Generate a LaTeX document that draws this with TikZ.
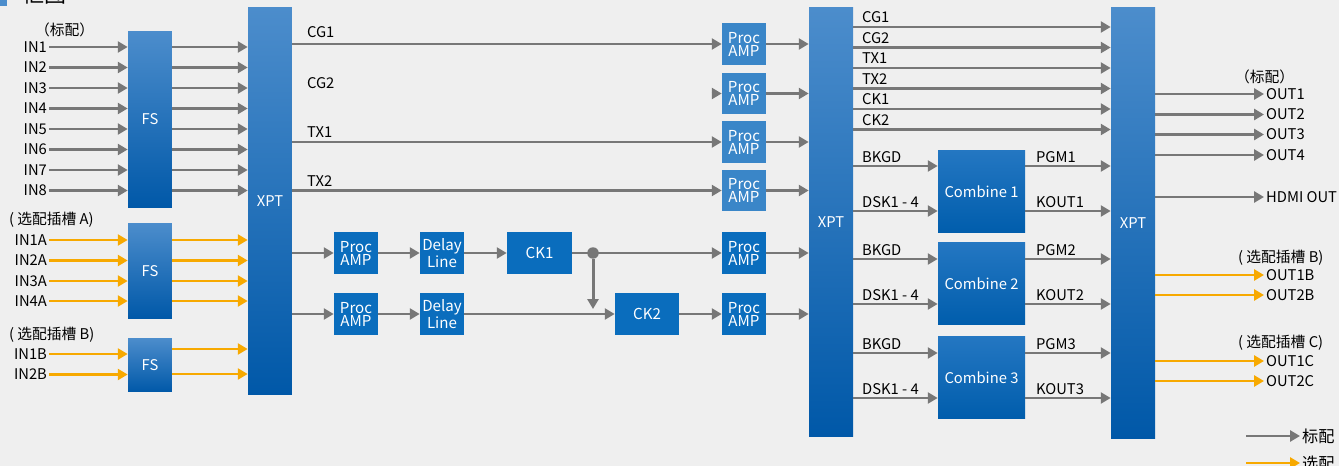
\documentclass[tikz,border=0pt]{standalone}
\usepackage{fontspec}
\setmainfont{Noto Sans CJK SC}
\usetikzlibrary{arrows.meta,positioning,calc}
\definecolor{bg}{HTML}{EFEFEF}
\definecolor{wire}{HTML}{777777}
\definecolor{opt}{HTML}{F7A900}
\definecolor{bluetop}{HTML}{4C8DCC}
\definecolor{bluebot}{HTML}{0058A8}
\definecolor{combtop}{HTML}{2477C2}
\definecolor{combbot}{HTML}{005DAC}
\definecolor{blockblue}{HTML}{0A6DBD}
\definecolor{lightblock}{HTML}{3A86C8}

\tikzset{
  wire/.style={draw=wire,line width=1.7pt,-{Triangle[length=5.6pt,width=6.2pt]}},
  optwire/.style={wire,draw=opt},
  bigblk/.style={rectangle,top color=bluetop,bottom color=bluebot,text=white,
                 inner sep=0,minimum width=0.88cm},
  combblk/.style={rectangle,top color=combtop,bottom color=combbot,text=white,
                  inner sep=0,minimum width=1.74cm,minimum height=1.66cm,
                  font=\fontsize{8.4}{9}\selectfont},
  procblk/.style={rectangle,fill=blockblue,text=white,inner sep=0,align=center,
                  minimum width=0.88cm,minimum height=0.84cm,
                  font=\fontsize{8.6}{7.4}\selectfont},
  lbl/.style={inner sep=1pt},
}

\begin{document}
\begin{tikzpicture}[x=0.02cm,y=-0.02cm,font=\fontsize{8.4}{9}\selectfont]
  \useasboundingbox[fill=bg] (0,0) rectangle (1339,466);

  % title, cut by the page edge
  \fill[bluetop] (0,-10) rectangle (7,6);
  \node[anchor=base west,inner sep=0,font=\fontsize{12.5}{14}\selectfont] (title) at (22,3) {框图};

  % big blocks
  \node[bigblk,minimum height=3.54cm] (fsa) at (150,119.5) {FS};
  \node[bigblk,minimum height=1.92cm] (fsb) at (150,271) {FS};
  \node[bigblk,minimum height=1.08cm] (fsc) at (150,365) {FS};
  \node[bigblk,minimum height=7.76cm] (xpta) at (270,201) {XPT};
  \node[bigblk,minimum height=8.6cm] (xptb) at (831,222) {XPT};
  \node[bigblk,minimum height=8.64cm] (xptc) at (1133,223) {XPT};

  % inputs (standard)
  \node[lbl,anchor=west] (stdin) at (33,30) {（标配）};
  \foreach \i/\yy in {1/47,2/67.5,3/88,4/108.5,5/129,6/149.5,7/170,8/190.5}{
    \node[lbl,anchor=east] (in\i) at (49,\yy) {IN\i};
    \draw[wire] (in\i.east) -- (fsa.west |- in\i.east);
    \draw[wire] (fsa.east |- in\i.east) -- (xpta.west |- in\i.east);
  }

  % inputs, slot A
  \node[lbl,anchor=west] (slota) at (7,220) {( 选配插槽 A)};
  \foreach \i/\yy in {1/240,2/260.5,3/281,4/301}{
    \node[lbl,anchor=east] (ina\i) at (49,\yy) {IN\i A};
    \draw[optwire] (ina\i.east) -- (fsb.west |- ina\i.east);
    \draw[optwire] (fsb.east |- ina\i.east) -- (xpta.west |- ina\i.east);
  }

  % inputs, slot B
  \node[lbl,anchor=west] (slotb) at (7,335) {( 选配插槽 B)};
  \node[lbl,anchor=east] (inb1) at (49,354) {IN1B};
  \node[lbl,anchor=east] (inb2) at (49,374.5) {IN2B};
  \draw[optwire] (inb1.east) -- (fsc.west |- inb1.east);
  \draw[optwire] (inb2.east) -- (fsc.west |- inb2.east);
  \draw[optwire] (fsc.east |- 0,349) -- (xpta.west |- 0,349);
  \draw[optwire] (fsc.east |- 0,374) -- (xpta.west |- 0,374);

  % proc amps before the second crosspoint
  \node[procblk,fill=lightblock] (pa1) at (744,44) {Proc\\AMP};
  \node[procblk,fill=lightblock] (pa2) at (744,93.5) {Proc\\AMP};
  \node[procblk,fill=lightblock] (pa3) at (744,142) {Proc\\AMP};
  \node[procblk,fill=lightblock] (pa4) at (744,190.5) {Proc\\AMP};
  \node[lbl,anchor=base west] (lcg1) at (305,38) {CG1};
  \node[lbl,anchor=base west] (lcg2) at (305,89) {CG2};
  \node[lbl,anchor=base west] (ltx1) at (305,137.5) {TX1};
  \node[lbl,anchor=base west] (ltx2) at (305,186.5) {TX2};
  \draw[wire] (xpta.east |- pa1.west) -- (pa1.west);
  \draw[wire] ([xshift=-0.2cm]pa2.west) -- (pa2.west);
  \draw[wire] (xpta.east |- pa3.west) -- (pa3.west);
  \draw[wire] (xpta.east |- pa4.west) -- (pa4.west);

  % chroma key chain
  \node[procblk] (pa5) at (356,253) {Proc\\AMP};
  \node[procblk] (dl1) at (442,253) {Delay\\Line};
  \node[procblk,minimum width=1.3cm] (ck1) at (539.5,253) {CK1};
  \node[procblk] (pa7) at (744,253) {Proc\\AMP};
  \node[procblk] (pa6) at (356,314) {Proc\\AMP};
  \node[procblk] (dl2) at (442,314) {Delay\\Line};
  \node[procblk,minimum width=1.28cm] (ck2) at (647,314) {CK2};
  \node[procblk] (pa8) at (744,314) {Proc\\AMP};
  \node[circle,fill=wire,inner sep=0,minimum size=0.23cm] (jn) at (593,253) {};
  \coordinate (ckdown) at ($(jn |- ck2.west)+(0,-5)$);
  \draw[wire] (xpta.east |- pa5.west) -- (pa5.west);
  \draw[wire] (pa5) -- (dl1);
  \draw[wire] (dl1) -- (ck1);
  \draw[wire] (ck1) -- (pa7);
  \draw[wire] (jn) -- (ckdown);
  \draw[wire] (xpta.east |- pa6.west) -- (pa6.west);
  \draw[wire] (pa6) -- (dl2);
  \draw[wire] (dl2) -- (ck2);
  \draw[wire] (ck2) -- (pa8);
  \foreach \p in {pa1,pa2,pa3,pa4,pa7,pa8}
    \draw[wire] (\p.east) -- (xptb.west |- \p.east);

  % buses between the second and third crosspoint
  \foreach \i/\t/\yy in {1/CG1/27,2/CG2/47.5,3/TX1/68,4/TX2/88.5,5/CK1/109,6/CK2/129.5}{
    \node[lbl,anchor=base west] (bus\i) at (860,\yy-4) {\t};
    \draw[wire] (xptb.east |- 0,\yy) -- (xptc.west |- 0,\yy);
  }

  % combiners
  \node[combblk] (cb1) at (981.5,191.5) {Combine 1};
  \node[combblk] (cb2) at (981.5,283.5) {Combine 2};
  \node[combblk] (cb3) at (981.5,377.5) {Combine 3};
  \foreach \k/\b/\d in {1/166/211,2/259/304,3/353/398}{
    \node[lbl,anchor=base west] (bk\k) at (860,\b-4) {BKGD};
    \node[lbl,anchor=base west] (dsk\k) at (860,\d-4) {DSK1 - 4};
    \node[lbl,anchor=base west] (pgm\k) at (1034,\b-4) {PGM\k};
    \node[lbl,anchor=base west] (kout\k) at (1034,\d-4) {KOUT\k};
    \draw[wire] (xptb.east |- 0,\b) -- (cb\k.west |- 0,\b);
    \draw[wire] (xptb.east |- 0,\d) -- (cb\k.west |- 0,\d);
    \draw[wire] (cb\k.east |- 0,\b) -- (xptc.west |- 0,\b);
    \draw[wire] (cb\k.east |- 0,\d) -- (xptc.west |- 0,\d);
  }

  % outputs
  \node[lbl,anchor=west] (stdout) at (1233,77) {（标配）};
  \foreach \i/\yy in {1/94,2/114.5,3/134.5,4/155}{
    \node[lbl,anchor=west] (out\i) at (1264,\yy) {OUT\i};
    \draw[wire] (xptc.east |- out\i.west) -- (out\i.west);
  }
  \node[lbl,anchor=west] (hdmi) at (1264,197) {HDMI OUT};
  \draw[wire] (xptc.east |- hdmi.west) -- (hdmi.west);
  \node[lbl,anchor=west] (slotob) at (1236,258) {( 选配插槽 B)};
  \node[lbl,anchor=west] (out1b) at (1264,275) {OUT1B};
  \node[lbl,anchor=west] (out2b) at (1264,295) {OUT2B};
  \node[lbl,anchor=west] (slotoc) at (1236,343) {( 选配插槽 C)};
  \node[lbl,anchor=west] (out1c) at (1264,361) {OUT1C};
  \node[lbl,anchor=west] (out2c) at (1264,381) {OUT2C};
  \foreach \o in {out1b,out2b,out1c,out2c}
    \draw[optwire] (xptc.east |- \o.west) -- (\o.west);

  % legend
  \coordinate (lgstd) at (1246,436);
  \coordinate (lgopt) at (1246,463);
  \node[lbl,anchor=west,font=\fontsize{9.2}{10}\selectfont] (lgstdtxt) at (1300,436) {标配};
  \node[lbl,anchor=west,font=\fontsize{9.2}{10}\selectfont] (lgopttxt) at (1300,463) {选配};
  \draw[wire] (lgstd) -- (lgstdtxt.west);
  \draw[optwire] (lgopt) -- (lgopttxt.west);
\end{tikzpicture}
\end{document}
